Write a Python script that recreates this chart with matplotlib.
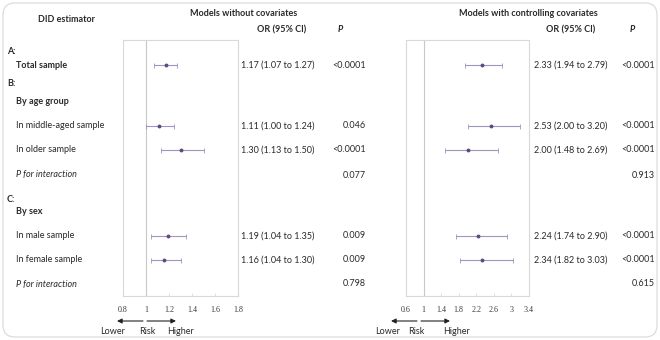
import matplotlib.pyplot as plt
from matplotlib.patches import FancyBboxPatch

# row labels and styles
row_labels = ["A:", "Total sample", "B:", "By age group", "In middle-aged sample",
              "In older sample", "P for interaction", "C:", "By sex",
              "In male sample", "In female sample", "P for interaction"]
row_weights = ["bold", "bold", "bold", "bold", "normal", "normal", "normal",
               "bold", "bold", "normal", "normal", "normal"]
row_styles = ["normal"] * 6 + ["italic"] + ["normal"] * 4 + ["italic"]
row_indent = [0, 1, 0, 1, 1, 1, 1, 0, 1, 1, 1, 1]

# rows that carry an estimate
est_rows = [1, 4, 5, 9, 10]
inter_rows = [6, 11]

# models without covariates
or_a = [1.17, 1.11, 1.30, 1.19, 1.16]
lo_a = [1.07, 1.00, 1.13, 1.04, 1.04]
hi_a = [1.27, 1.24, 1.50, 1.35, 1.30]
p_a = ["<0.0001", "0.046", "<0.0001", "0.009", "0.009"]
pint_a = ["0.077", "0.798"]
ticks_a = [0.8, 1, 1.2, 1.4, 1.6, 1.8]

# models with controlling covariates
or_b = [2.33, 2.53, 2.00, 2.24, 2.34]
lo_b = [1.94, 2.00, 1.48, 1.74, 1.82]
hi_b = [2.79, 3.20, 2.69, 2.90, 3.03]
p_b = ["<0.0001", "<0.0001", "<0.0001", "<0.0001", "<0.0001"]
pint_b = ["0.913", "0.615"]
ticks_b = [0.6, 1, 1.4, 1.8, 2.2, 2.6, 3, 3.4]

# layout (pixels)
W, H = 660, 340
row_y = [52, 65, 83, 101, 126, 150, 175, 199, 212, 236, 260, 284]
box_top, box_bot = 40, 296
FONT = "Lato"
FS = 6.5
TXT = "#2a2a2a"
LINE_C = "#a393c0"
DOT_C = "#5e4b82"

plt.rcParams["font.family"] = [FONT, "DejaVu Sans"]

fig = plt.figure(figsize=(W / 100, H / 100), dpi=100)
bg = fig.add_axes([0, 0, 1, 1])
bg.set_xlim(0, W)
bg.set_ylim(H, 0)
bg.axis("off")

bg.add_patch(FancyBboxPatch((3, 3), W - 6, H - 6,
                            boxstyle="round,pad=0,rounding_size=12",
                            fc="white", ec="#d8d8d8", lw=0.8))

# headers
bg.text(67, 20, "DID estimator", ha="center", va="center", fontsize=FS,
        fontweight="bold", color=TXT)
bg.text(244, 13, "Models without covariates", ha="center", va="center",
        fontsize=FS, fontweight="bold", color=TXT)
bg.text(306, 30, "OR (95% CI)", ha="right", va="center", fontsize=FS,
        fontweight="bold", color=TXT)
bg.text(340, 30, "P", ha="center", va="center", fontsize=FS,
        fontweight="bold", style="italic", color=TXT)
bg.text(528, 13, "Models with controlling covariates", ha="center", va="center",
        fontsize=FS, fontweight="bold", color=TXT)
bg.text(595, 30, "OR (95% CI)", ha="right", va="center", fontsize=FS,
        fontweight="bold", color=TXT)
bg.text(632, 30, "P", ha="center", va="center", fontsize=FS,
        fontweight="bold", style="italic", color=TXT)

for i, lab in enumerate(row_labels):
    bg.text(7 + 9 * row_indent[i], row_y[i], lab, ha="left", va="center",
            fontsize=FS, fontweight=row_weights[i], style=row_styles[i],
            color=TXT)


def forest(x0, x1, est, lo, hi, ticks, or_x, p_x, pvals, pints):
    ax = fig.add_axes([x0 / W, 1 - box_bot / H, (x1 - x0) / W,
                       (box_bot - box_top) / H])
    ax.set_xlim(ticks[0], ticks[-1])
    ax.set_ylim(box_bot, box_top)
    for s in ax.spines.values():
        s.set_color("#d9d9d9")
        s.set_linewidth(0.8)
    ax.axvline(1, color="#c8c8c8", lw=0.8)
    ys = [row_y[r] for r in est_rows]
    err = [[e - l for e, l in zip(est, lo)], [h - e for e, h in zip(est, hi)]]
    ax.errorbar(est, ys, xerr=err, fmt="o", ms=1.8, mfc=DOT_C, mec=DOT_C,
                ecolor=LINE_C, elinewidth=0.8, capsize=1.8, capthick=0.6)
    ax.set_xticks(ticks)
    ax.set_xticklabels([f"{t:g}" for t in ticks], family="Liberation Serif",
                       fontsize=5.8, color="#3a3a3a")
    ax.tick_params(axis="x", direction="in", length=2, color="#e0e0e0",
                   pad=7)
    ax.set_yticks([])
    for j, r in enumerate(est_rows):
        bg.text(or_x, row_y[r], f"{est[j]:.2f} ({lo[j]:.2f} to {hi[j]:.2f})",
                ha="left", va="center", fontsize=FS, color=TXT)
        bg.text(p_x, row_y[r], pvals[j], ha="right", va="center",
                fontsize=FS, color=TXT)
    for j, r in enumerate(inter_rows):
        bg.text(p_x, row_y[r], pints[j], ha="right", va="center",
                fontsize=FS, color=TXT)
    return ax


forest(123, 238, or_a, lo_a, hi_a, ticks_a, 241, 366, p_a, pint_a)
forest(406, 529, or_b, lo_b, hi_b, ticks_b, 534, 655, p_b, pint_b)

# risk arrows
for left, mid, right, lx, rx, hx in [(117, 145, 176, 113, 147, 181),
                                     (391, 419, 450, 388, 416, 456)]:
    bg.annotate("", xy=(left, 321), xytext=(mid - 2, 321),
                arrowprops=dict(arrowstyle="-|>", color="#222222", lw=0.8,
                                mutation_scale=7, shrinkA=0, shrinkB=0))
    bg.annotate("", xy=(right, 321), xytext=(mid + 2, 321),
                arrowprops=dict(arrowstyle="-|>", color="#222222", lw=0.8,
                                mutation_scale=7, shrinkA=0, shrinkB=0))
    bg.text(lx, 331, "Lower", ha="center", va="center", fontsize=FS, color=TXT)
    bg.text(rx, 332, "Risk", ha="center", va="center", fontsize=FS, color=TXT)
    bg.text(hx, 332, "Higher", ha="center", va="center", fontsize=FS, color=TXT)

fig.savefig("out.png", dpi=100)
